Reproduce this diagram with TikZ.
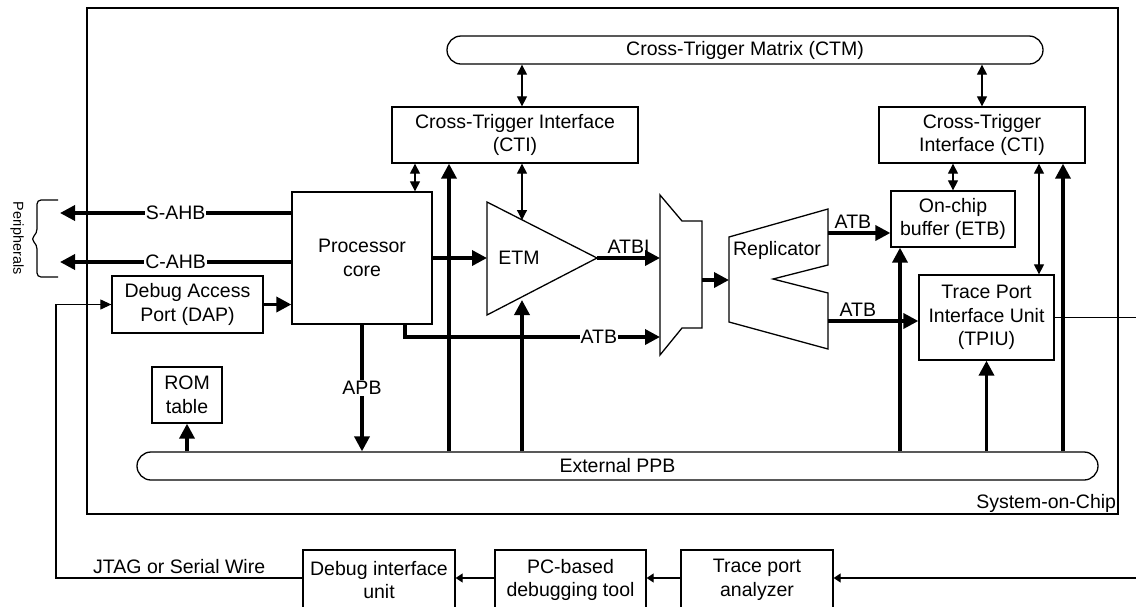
\documentclass[tikz,border=0pt]{standalone}
\usepackage{fontspec}
\setmainfont{Liberation Sans}
\usetikzlibrary{arrows.meta,shapes.misc}

\begin{document}
\begin{tikzpicture}[x=1pt,y=-1pt,
  font=\fontsize{19.5}{23.5}\selectfont,
  box/.style={draw, line width=1.3pt, inner sep=0pt, align=center},
  bus/.style={line width=3.5pt, -{Triangle[length=15pt,width=15pt]}},
  sig/.style={line width=1.2pt, -{Triangle[length=11pt,width=10pt]}},
  both/.style={line width=1.2pt, {Triangle[length=10pt,width=10pt]}-{Triangle[length=10pt,width=10pt]}},
  ext/.style={line width=1.2pt, -{Triangle[length=7pt,width=9pt]}},
  lbl/.style={fill=white, inner sep=1pt}]
\useasboundingbox (0,0) rectangle (1136,606);

\node[draw, line width=2.5pt, minimum width=1031pt, minimum height=506pt, inner sep=0pt] (soc) at (602.5,261) {};
\node[anchor=south east, inner sep=3pt] (socname) at (soc.south east) {System-on-Chip};

\node[box, rounded rectangle, minimum width=596pt, minimum height=28pt] (ctm) at (745,50) {Cross-Trigger Matrix (CTM)};
\node[box, rounded rectangle, minimum width=961pt, minimum height=28pt] (ppb) at (617.5,466) {External PPB};
\node[box, minimum width=246pt, minimum height=56pt] (ctil) at (515,135) {Cross-Trigger Interface\\(CTI)};
\node[box, minimum width=206pt, minimum height=56pt] (ctir) at (982,135) {Cross-Trigger\\Interface (CTI)};
\node[box, minimum width=140pt, minimum height=132pt] (core) at (362,258) {Processor\\core};
\node[box, minimum width=151pt, minimum height=57pt] (dap) at (187.5,304.5) {Debug Access\\Port (DAP)};
\node[box, minimum width=70pt, minimum height=56pt] (rom) at (187,395) {ROM\\table};
\node[box, minimum width=124pt, minimum height=56pt] (etb) at (953,219) {On-chip\\buffer (ETB)};
\node[box, minimum width=135pt, minimum height=85pt] (tpiu) at (986.5,317.5) {Trace Port\\Interface Unit\\(TPIU)};
\node[box, minimum width=152pt, minimum height=60pt] (dbg) at (379,580) {Debug interface\\unit};
\node[box, minimum width=151pt, minimum height=60pt] (pc) at (570.5,580) {PC-based\\debugging tool};
\node[box, minimum width=152pt, minimum height=60pt] (tpa) at (757,580) {Trace port\\analyzer};

\draw[line width=1.3pt] (487,202) -- (597,258) coordinate (etmapex) -- (487,315) -- cycle;
\node (etm) at (519,258) {ETM};
\coordinate (etmin) at (487,258);
\coordinate (etmtop) at (522,220);
\coordinate (etmbot) at (522,300);

\draw[line width=1.3pt] (660,195) -- (682,221) -- (702,221) -- (702,328) -- (682,328) -- (660,355) -- cycle;
\coordinate (muxa) at (660,258);
\coordinate (muxb) at (660,337);
\coordinate (muxo) at (702,280);

\draw[line width=1.3pt] (729,237) -- (828,209) -- (828,265) -- (773,279) -- (828,293) -- (828,349) -- (729,322) -- cycle;
\node (rep) at (777,250) {Replicator};
\coordinate (repin) at (729,280);
\coordinate (repa) at (828,233);
\coordinate (repb) at (828,321);

\coordinate (tapa) at (415,0);
\coordinate (tapb) at (449,0);
\coordinate (tapc) at (900,0);
\coordinate (tapd) at (1039,0);
\coordinate (tape) at (1063,0);
\coordinate (tapf) at (405,0);
\coordinate (sahb) at (60,213);
\coordinate (cahb) at (60,262);
\coordinate (tpo) at (1136,318);
\coordinate (tpi) at (1136,578);
\coordinate (jtag) at (56,578);

\draw[bus] (core.west |- sahb) -- node[lbl]{S-AHB} (sahb);
\draw[bus] (core.west |- cahb) -- node[lbl]{C-AHB} (cahb);
\draw[bus] (dap.east) -- (dap.east -| core.west);
\draw[bus] (core.east) -- (etmin);
\draw[bus] (etmapex) -- node[above=-1pt]{ATBI} (muxa);
\draw[bus] (core.south -| tapf) |- node[lbl, pos=0.88]{ATB} (muxb);
\draw[bus] (muxo) -- (repin);
\draw[bus] (repa) -- node[above=-1pt, pos=0.4]{ATB} (repa -| etb.west);
\draw[bus] (repb) -- node[above=-1pt, pos=0.33]{ATB} (repb -| tpiu.west);
\draw[bus] (core.south) -- node[lbl]{APB} (core.south |- ppb.north);
\draw[bus] (ppb.north -| rom.south) -- (rom.south);
\draw[bus] (ppb.north -| tapb) -- (ctil.south -| tapb);
\draw[bus] (ppb.north -| etmbot) -- (etmbot);
\draw[bus] (ppb.north -| tapc) -- (etb.south -| tapc);
\draw[bus] (ppb.north -| tpiu.south) -- (tpiu.south);
\draw[bus] (ppb.north -| tape) -- (ctir.south -| tape);

\draw[both] (ctm.south -| etmtop) -- (ctil.north -| etmtop);
\draw[both] (ctm.south -| ctir.north) -- (ctir.north);
\draw[both] (ctil.south -| tapa) -- (core.north -| tapa);
\draw[both] (ctil.south -| etmtop) -- (etmtop);
\draw[both] (ctir.south -| etb.north) -- (etb.north);
\draw[both] (ctir.south -| tapd) -- (tpiu.north -| tapd);

\draw[line width=1.2pt] (tpiu.east) -- (tpiu.east -| tpo);
\draw[ext] (tpi) -- (tpi -| tpa.east);
\draw[ext] (tpa.west |- tpi) -- (tpi -| pc.east);
\draw[ext] (pc.west |- tpi) -- (tpi -| dbg.east);
\draw[sig] (dbg.west |- jtag) -- node[above]{JTAG or Serial Wire} (jtag) |- (dap.west);

\draw[line width=1.2pt, rounded corners=4pt] (58,200) -- (37,200) -- (37,233) -- (31,239) -- (37,245) -- (37,277) -- (58,277);
\node[rotate=-90, font=\fontsize{14.4}{17}\selectfont] (per) at (17,238) {Peripherals};
\end{tikzpicture}
\end{document}
